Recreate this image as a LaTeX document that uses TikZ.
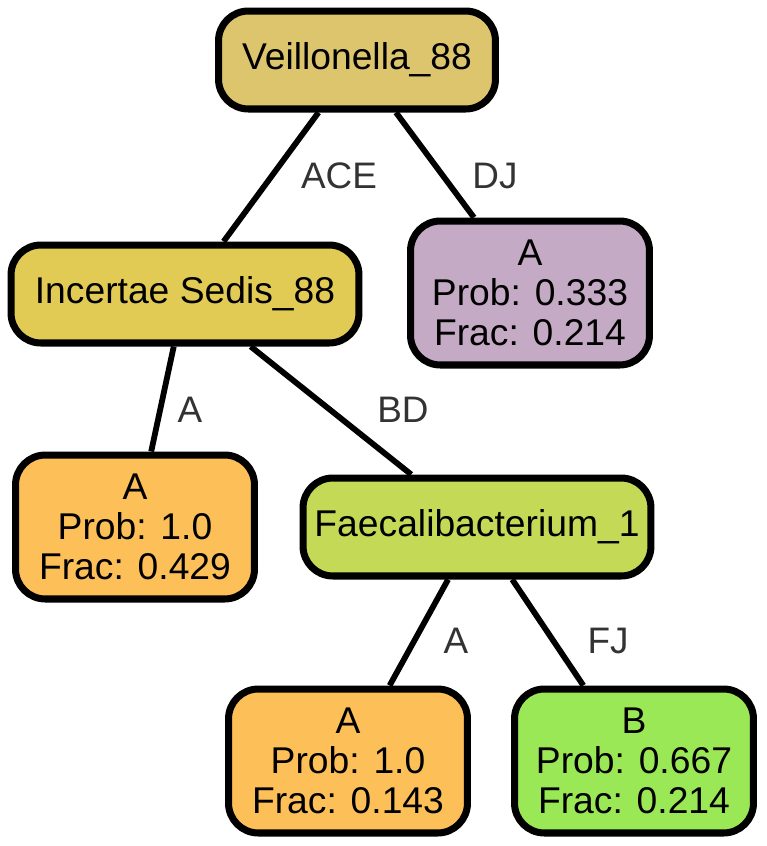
\documentclass[tikz,border=0pt]{standalone}
\usepackage{fontspec}
\setmainfont{Liberation Sans}
\usetikzlibrary{positioning}

\definecolor{veilfill}{HTML}{DDC56E}
\definecolor{incfill}{HTML}{E1CB55}
\definecolor{faecfill}{HTML}{C4D955}
\definecolor{purpfill}{HTML}{C5AAC5}
\definecolor{orfill}{HTML}{FDBF57}
\definecolor{grfill}{HTML}{9BE856}
\definecolor{labgray}{HTML}{333333}

\begin{document}
\begin{tikzpicture}[
            x=0.02cm, y=-0.02cm,
            box/.style={rectangle, draw, line width=4pt, rounded corners=17pt, inner sep=0pt, align=center, minimum height=1.96cm, font=\fontsize{21.2}{22.8}\selectfont},
            leaf/.style={box, minimum width=4.78cm, minimum height=2.88cm},
            lab/.style={text=labgray, font=\fontsize{21}{22.8}\selectfont},
            link/.style={line width=3.3pt}
        ]
            \useasboundingbox (0,0) rectangle (767,846);
            \node[box, fill=veilfill, minimum width=5.54cm] (v88) at (357,60) {Veillonella\_88};
            \node[box, fill=incfill, minimum width=6.96cm] (is88) at (185,294) {Incertae Sedis\_88};
            \node[leaf, fill=purpfill] (l1) at (530,293) {A\\Prob: 0.333\\Frac: 0.214};
            \node[leaf, fill=orfill] (l2) at (135,527) {A\\Prob: 1.0\\Frac: 0.429};
            \node[box, fill=faecfill, minimum width=6.96cm] (fb1) at (477,527) {Faecalibacterium\_1};
            \node[leaf, fill=orfill] (l3) at (348,761) {A\\Prob: 1.0\\Frac: 0.143};
            \node[leaf, fill=grfill] (l4) at (634,761) {B\\Prob: 0.667\\Frac: 0.214};
            \draw[link] (v88) -- (is88);
            \draw[link] (v88) -- (l1);
            \draw[link] (is88) -- (l2);
            \draw[link] (is88) -- (fb1);
            \draw[link] (fb1) -- (l3);
            \draw[link] (fb1) -- (l4);
            \node[lab] (tACE) at (339,176) {ACE};
            \node[lab] (tDJ) at (495,176) {DJ};
            \node[lab] (tA1) at (190,410) {A};
            \node[lab] (tBD) at (403,410) {BD};
            \node[lab] (tA2) at (456,641) {A};
            \node[lab] (tFJ) at (608,641) {FJ};
        \end{tikzpicture}
\end{document}
